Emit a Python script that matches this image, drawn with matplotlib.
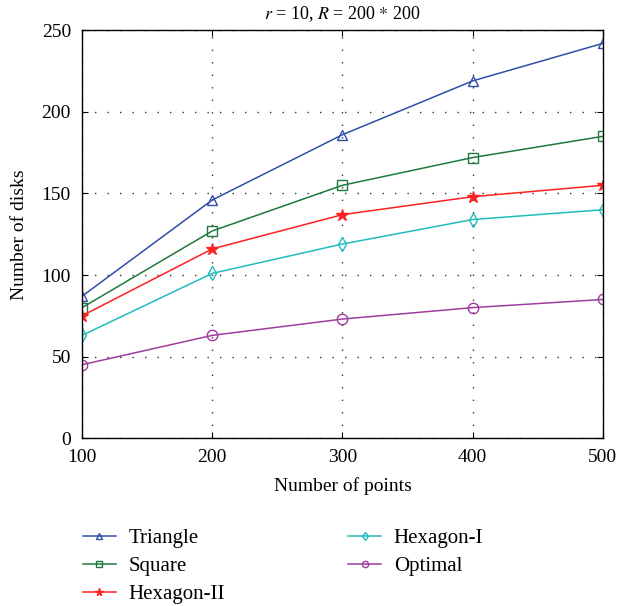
import matplotlib
matplotlib.use('Agg')
import matplotlib.pyplot as plt

plt.rcParams['font.family'] = ['Liberation Serif', 'DejaVu Serif']
plt.rcParams['mathtext.fontset'] = 'stix'

points = [100, 200, 300, 400, 500]
triangle = [87, 146, 186, 219, 242]
square = [80, 127, 155, 172, 185]
hexagon_2 = [75, 116, 137, 148, 155]
hexagon_1 = [63, 101, 119, 134, 140]
optimal = [45, 63, 73, 80, 85]

series = [
    ('Triangle', triangle, '#2f4fa6', '^', 'none'),
    ('Square', square, '#1d7a3c', 's', 'none'),
    ('Hexagon-II', hexagon_2, '#ff2020', '*', '#ff2020'),
    ('Hexagon-I', hexagon_1, '#22bcbc', 'd', 'none'),
    ('Optimal', optimal, '#a03ca0', 'o', 'none'),
]

fig = plt.figure(figsize=(6.36, 6.06), dpi=100)
ax = fig.add_axes([0.129, 0.277, 0.819, 0.673])

for name, vals, color, marker, face in series:
    ax.plot(points, vals, color=color, marker=marker, markerfacecolor=face,
            markeredgecolor=color, markersize=7.5 if marker != '*' else 9,
            linewidth=1.1, label=name)

ax.set_xlim(100, 500)
ax.set_ylim(0, 250)
ax.set_xticks(points)
ax.set_yticks([0, 50, 100, 150, 200, 250])
ax.grid(True, linestyle=(0, (1, 8)), color='#333333', linewidth=1.0)
ax.tick_params(direction='in', top=True, right=True, labelsize=14, length=4, pad=8)
ax.set_xlabel('Number of points', fontsize=14, labelpad=8)
ax.set_ylabel('Number of disks', fontsize=14, labelpad=10)
ax.set_title('$r$ = 10, $R$ = 200 $*$ 200', fontsize=13, pad=8)
for s in ax.spines.values():
    s.set_linewidth(1.0)

fig.legend(loc='upper left', bbox_to_anchor=(0.130, 0.128), ncol=2,
           frameon=False, fontsize=15, handlelength=1.6, handletextpad=0.6,
           columnspacing=5.9, labelspacing=0.4, markerscale=0.6,
           borderpad=0, borderaxespad=0)

fig.savefig('out.png', dpi=100)
